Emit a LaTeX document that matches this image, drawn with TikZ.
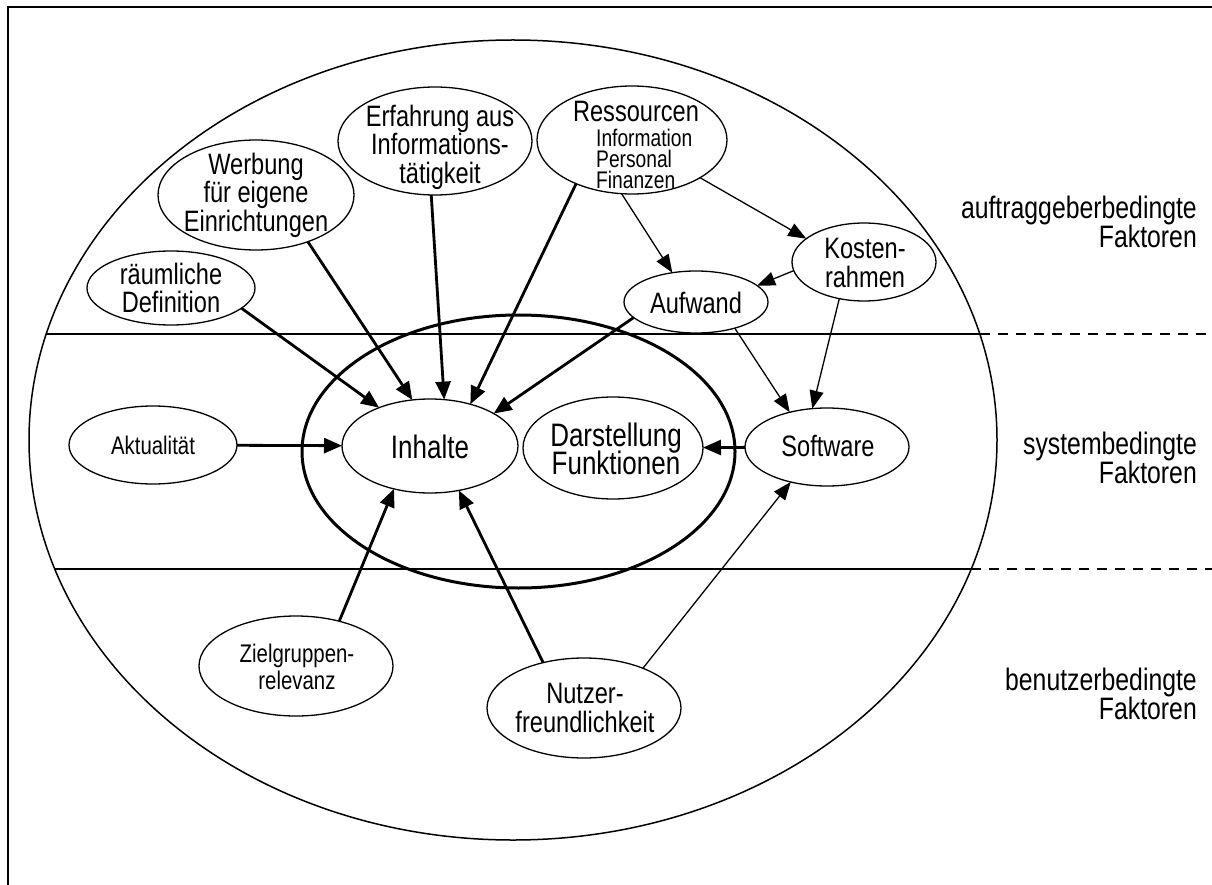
\documentclass[tikz,border=0pt]{standalone}
\usepackage{fontspec}
\setmainfont{Liberation Sans}[FakeStretch=0.80]
\usetikzlibrary{shapes.geometric,arrows.meta}
\lineskiplimit=-50pt
\newcommand\fsL{\fontsize{31}{29}\selectfont\lineskiplimit=-50pt}
\newcommand\fsN{\fontsize{29.5}{28.5}\selectfont\lineskiplimit=-50pt}
\newcommand\fsS{\fontsize{25.5}{27}\selectfont\lineskiplimit=-50pt}
\newcommand\fsI{\fontsize{24}{21}\selectfont\lineskiplimit=-50pt}
\newcommand\fsC{\fontsize{32.5}{28}\selectfont\lineskiplimit=-50pt}
\begin{document}
\begin{tikzpicture}[x=1pt,y=-1pt,
  ell/.style n args={2}{draw, ellipse, line width=1.3pt, minimum width=#1pt, minimum height=#2pt, inner sep=0pt, outer sep=0pt},
  txt/.style={align=center, inner sep=0pt, font=\fsN},
  bigarr/.style={line width=2.8pt, -{Triangle[length=18pt,width=15pt]}},
  thinarr/.style={line width=1.3pt, -{Triangle[length=18pt,width=14pt]}},
  sep/.style={line width=1.3pt},
  sepdash/.style={line width=1.3pt, dash pattern=on 10pt off 8pt}]
\useasboundingbox (0,0) rectangle (1212,885);
% frame
\draw[line width=1.8pt] (8,885) -- (8,7) -- (1212,7);
% outer and core ellipses
\node[draw, ellipse, line width=1.5pt, minimum width=968pt, minimum height=800pt, inner sep=0pt] (outer) at (513,440) {};
\node[draw, ellipse, line width=3pt, minimum width=433pt, minimum height=273pt, inner sep=0pt] (core) at (518.5,451.5) {};
% band separators
\draw[sep] (46.3,334) -- (979.7,334);
\draw[sepdash] (979.7,334) -- (1212,334);
\draw[sep] (54.8,569) -- (971.2,569);
\draw[sepdash] (971.2,569) -- (1212,569);
% factor nodes
\node[ell={196}{110}] (werb) at (256,195) {};
\node[ell={168}{74}]  (raum) at (171,288) {};
\node[ell={194}{108}] (erf)  at (435,141) {};
\node[ell={190}{108}] (res)  at (632,140) {};
\node[ell={144}{78}]  (kost) at (864,262) {};
\node[ell={144}{62}]  (aufw) at (696,302) {};
\node[ell={164}{78}]  (soft) at (827,447) {};
\node[ell={176}{94}]  (inh)  at (430,446) {};
\node[ell={180}{102}] (dar)  at (613,448) {};
\node[ell={168}{78}]  (akt)  at (153,445) {};
\node[ell={194}{100}] (ziel) at (296,666) {};
\node[ell={194}{100}] (nutz) at (584,708) {};
% texts
\node[txt] (werb-t) at (256,195) {Werbung\\für eigene\\Einrichtungen};
\node[txt] (raum-t) at (171,288) {räumliche\\Definition};
\node[txt] (erf-t)  at (440,147) {Erfahrung aus\\Informations-\\tätigkeit};
\node[txt] (res-t)  at (636,111) {Ressourcen};
\node[txt, font=\fsI, align=left, anchor=west] (res-s) at (596,159) {Information\\Personal\\Finanzen};
\node[txt] (kost-t) at (865,263) {Kosten-\\rahmen};
\node[txt] (aufw-t) at (696,303) {Aufwand};
\node[txt] (soft-t) at (828,446) {Software};
\node[txt, font=\fsC] (inh-t) at (430,447) {Inhalte};
\node[txt, font=\fsC] (dar-t) at (616,449) {Darstellung\\Funktionen};
\node[txt, font=\fsS] (akt-t) at (153,445) {Aktualität};
\node[txt, font=\fsS] (ziel-t) at (297,667) {Zielgruppen-\\relevanz};
\node[txt] (nutz-t) at (585,708) {Nutzer-\\freundlichkeit};
% side labels
\node[txt, font=\fsL, align=right, anchor=east] (lab1) at (1197,222) {auftraggeberbedingte\\Faktoren};
\node[txt, font=\fsL, align=right, anchor=east] (lab2) at (1197,458) {systembedingte\\Faktoren};
\node[txt, font=\fsL, align=right, anchor=east] (lab3) at (1197,694) {benutzerbedingte\\Faktoren};
% thick connectors
\draw[bigarr] (raum.-16) -- (inh.143.6);
\draw[bigarr] (werb.-42) -- (inh.111);
\draw[bigarr] (erf.-94) -- (inh.73);
\draw[bigarr] (res.-142) -- (inh.46);
\draw[bigarr] (aufw.-166) -- (inh.27);
\draw[bigarr] (akt) -- (inh);
\draw[bigarr] (soft) -- (dar);
\draw[bigarr] (ziel.46) -- (inh.-130);
\draw[bigarr] (nutz.132) -- (inh.-57);
% thin connectors
\draw[thinarr] (res.-101.5) -- (aufw.129);
\draw[thinarr] (res.-29) -- (kost.158);
\draw[thinarr] (kost.-173) -- (aufw.15);
\draw[thinarr] (aufw.-34) -- (soft.137);
\draw[thinarr] (kost.-124) -- (soft.111);
\draw[thinarr] (nutz.34) -- (soft.-136);
\end{tikzpicture}
\end{document}
